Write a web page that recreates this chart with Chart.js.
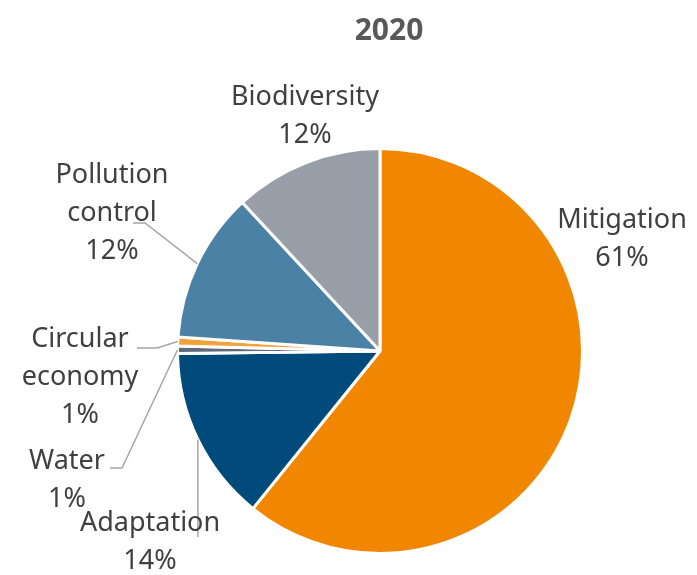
<!DOCTYPE html>
<html>
<head>
<meta charset="utf-8">
<script src="https://cdn.jsdelivr.net/npm/chart.js@4"></script>
<style>
  html, body { margin: 0; padding: 0; background: #fff; }
  #wrap { width: 697px; height: 575px; position: relative; }
</style>
</head>
<body>
<div id="wrap"><canvas id="pie"></canvas></div>
<script>
// data (shares in %)
const title = '2020';
const categories = ['Mitigation', 'Adaptation', 'Water', 'Circular economy', 'Pollution control', 'Biodiversity'];
const shares = [60.8, 14.0, 0.6, 0.7, 12.0, 11.9];
const shownPct = ['61%', '14%', '1%', '1%', '12%', '12%'];
const colors = ['#f18700', '#004b7c', '#5f6a7c', '#f5a13a', '#4a81a5', '#989fa8'];

// label placement (text centre, line breaks) and leader elbows, per slice
// a leader point of null for x means "straight down from the slice edge"
const labelStyle = [
    { lines: ['Mitigation', '61%'], x: 622, y: 220, leader: null },
    { lines: ['Adaptation', '14%'], x: 150, y: 523, leader: [[null, 537]] },
    { lines: ['Water', '1%'], x: 67, y: 461, leader: [[122, 468], [110, 468]] },
    { lines: ['Circular', 'economy', '1%'], x: 80, y: 339, leader: [[157, 348], [137, 348]] },
    { lines: ['Pollution', 'control', '12%'], x: 112, y: 175, leader: [[145, 223], [133, 223]] },
    { lines: ['Biodiversity', '12%'], x: 305, y: 97, leader: null },
];

const FONT = '"Noto Sans", sans-serif';
const TEXT = '#404040';

const labelsPlugin = {
    id: 'pieLabels',
    afterDraw(chart) {
        const ctx = chart.ctx;
        const meta = chart.getDatasetMeta(0);
        ctx.save();

        // title
        ctx.fillStyle = '#595959';
        ctx.font = 'bold 30px ' + FONT;
        ctx.textAlign = 'center';
        ctx.textBaseline = 'middle';
        ctx.fillText(title, 389, 31);

        meta.data.forEach((arc, i) => {
            const st = labelStyle[i];
            const p = arc.getProps(['x', 'y', 'startAngle', 'endAngle', 'outerRadius'], true);
            const mid = (p.startAngle + p.endAngle) / 2;
            const ax = p.x + Math.cos(mid) * p.outerRadius;
            const ay = p.y + Math.sin(mid) * p.outerRadius;

            if (st.leader) {
                ctx.strokeStyle = '#a6a6a6';
                ctx.lineWidth = 1.5;
                ctx.beginPath();
                ctx.moveTo(ax, ay);
                st.leader.forEach(([lx, ly]) => ctx.lineTo(lx === null ? ax : lx, ly));
                ctx.stroke();
            }

            ctx.fillStyle = TEXT;
            ctx.font = '27px ' + FONT;
            const text = st.lines.slice(0, -1).concat(shownPct[i]);
            text.forEach((t, k) => ctx.fillText(t, st.x, st.y + k * 38));
        });
        ctx.restore();
    },
};

new Chart(document.getElementById('pie'), {
    type: 'pie',
    data: {
        labels: categories,
        datasets: [{
            data: shares,
            backgroundColor: colors,
            borderColor: '#ffffff',
            borderWidth: 3,
        }],
    },
    options: {
        responsive: true,
        maintainAspectRatio: false,
        animation: false,
        layout: { padding: { top: 147, bottom: 20, left: 176, right: 113 } },
        plugins: {
            legend: { display: false },
            tooltip: { enabled: false },
        },
    },
    plugins: [labelsPlugin],
});
</script>
</body>
</html>
